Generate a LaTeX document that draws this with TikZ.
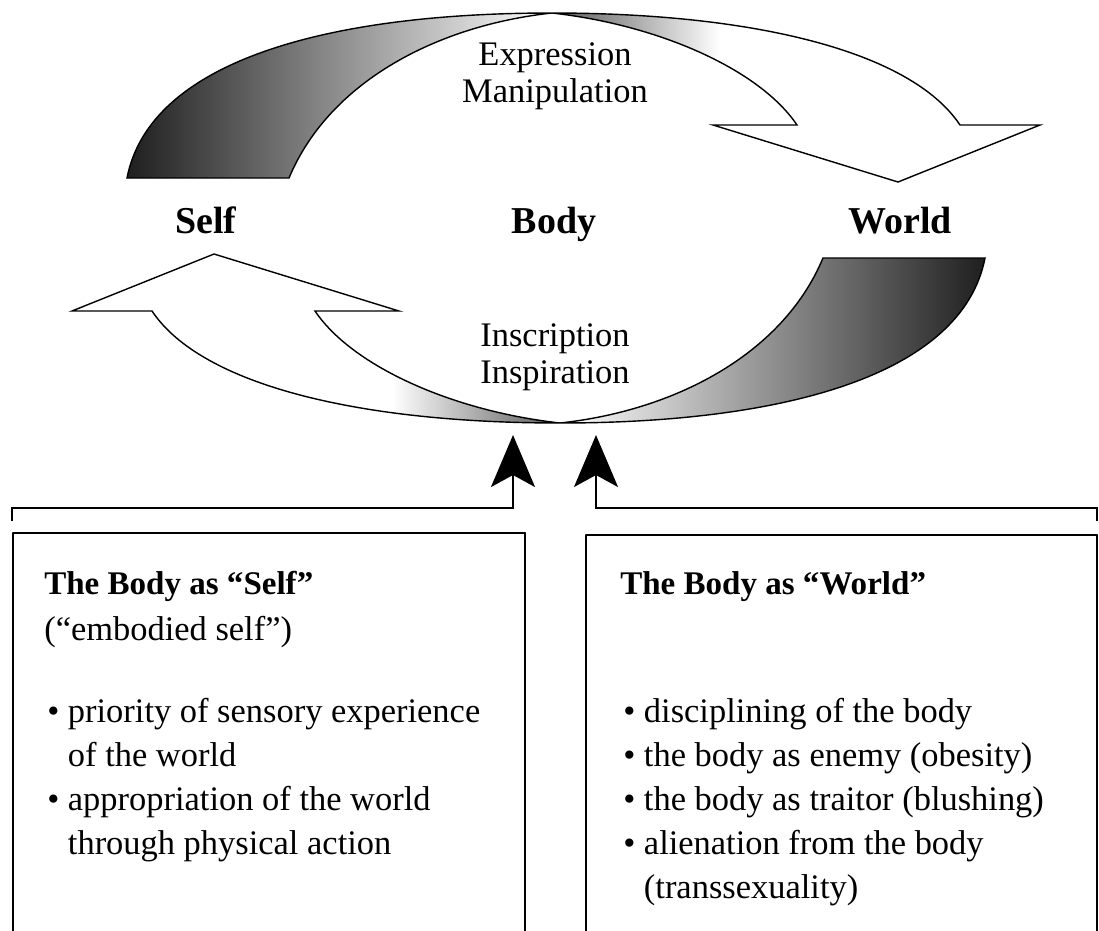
\documentclass[tikz,border=0pt]{standalone}
\usepackage{fontspec}
\setmainfont{Liberation Serif}
\usepackage{tikz}
\usetikzlibrary{arrows.meta,positioning,calc}
\usepackage{tkz-euclide}

\begin{document}
\begin{tikzpicture}[x=0.025cm,y=-0.025cm,
    mainlabel/.style={font=\fontsize{27}{30}\selectfont\bfseries,anchor=base,inner sep=0pt},
    flowtext/.style={font=\fontsize{24.5}{28}\selectfont,anchor=base,inner sep=0pt},
    boxhead/.style={font=\fontsize{23.5}{28}\selectfont\bfseries,anchor=base west,inner sep=0pt},
    boxitem/.style={font=\fontsize{24.5}{28}\selectfont,anchor=base west,inner sep=0pt},
    feed/.style={line width=1.3pt,-{Stealth[length=1.3cm,width=1.1cm,inset=0.3cm]}},
    ribbon/.pic={
        % shaded tail, dark at the far end
        \begin{scope}
            \clip (127,178) .. controls (150,60) and (330,13) .. (552,13)
                .. controls (440,25) and (330,80) .. (289,178) -- cycle;
            \shade[left color=black!88,middle color=black!30,right color=white,shading angle=#1]
                (127,0) rectangle (552,180);
        \end{scope}
        % head half, grey only next to the crossing
        \begin{scope}
            \clip (552,13) .. controls (750,13) and (910,50) .. (960,125) -- (797,125)
                .. controls (760,70) and (660,25) .. (552,13) -- cycle;
            \shade[left color=black!65,right color=white,shading angle=#1] (552,0) rectangle (720,130);
        \end{scope}
        \draw[line width=1pt] (127,178) .. controls (150,60) and (330,13) .. (552,13)
            .. controls (750,13) and (910,50) .. (960,125) -- (1040,125) -- (898,182)
            -- (713,125) -- (797,125) .. controls (760,70) and (660,25) .. (552,13)
            .. controls (440,25) and (330,80) .. (289,178) -- cycle;
    }]
    \useasboundingbox (0,0) rectangle (1099,930);

    % the two twisted arrows
    \pic at (0,0) {ribbon=90};
    \pic[rotate=180] at (1112,436) {ribbon=270};

    \node[flowtext] (expr) at (555,65) {Expression};
    \node[flowtext] (manip) at (555,102) {Manipulation};
    \node[mainlabel] (self) at (206,233) {Self};
    \node[mainlabel] (body) at (554,233) {Body};
    \node[mainlabel] (world) at (900,233) {World};
    \node[flowtext] (inscr) at (555,346) {Inscription};
    \node[flowtext] (inspi) at (555,383) {Inspiration};

    % brackets
    \tkzDefPoint(12,521){fa}
    \tkzDefPoint(12,508){fb}
    \tkzDefPoint(513,508){fc}
    \tkzDefPoint(513,435){fd}
    \tkzDefPoint(1097,521){ga}
    \tkzDefPoint(1097,508){gb}
    \tkzDefPoint(596,508){gc}
    \tkzDefPoint(596,435){gd}
    \draw[feed] (fa) -- (fb) -- (fc) -- (fd);
    \draw[feed] (ga) -- (gb) -- (gc) -- (gd);

    % boxes
    \tkzDefPoint(13,935){sa}
    \tkzDefPoint(13,533){sb}
    \tkzDefPoint(525,533){sc}
    \tkzDefPoint(525,935){sd}
    \tkzDrawSegments[line width=0.9pt](sa,sb sc,sd)
    \tkzDrawSegment[line width=1.4pt](sb,sc)

    \tkzDefPoint(586,935){wa}
    \tkzDefPoint(586,535){wb}
    \tkzDefPoint(1097,535){wc}
    \tkzDefPoint(1097,935){wd}
    \tkzDrawSegments[line width=0.9pt](wa,wb wc,wd)
    \tkzDrawSegment[line width=1.4pt](wb,wc)

    \node[boxhead] (shead) at (44,594) {The Body as “Self”};
    \node[boxitem] (ssub) at (44,640) {(“embodied self”)};
    \node[boxitem] (s1) at (47,722) {• priority of sensory experience};
    \node[boxitem] (s2) at (47,766) {\phantom{•} of the world};
    \node[boxitem] (s3) at (47,810) {• appropriation of the world};
    \node[boxitem] (s4) at (47,854) {\phantom{•} through physical action};

    \node[boxhead] (whead) at (620,594) {The Body as “World”};
    \node[boxitem] (w1) at (623,722) {• disciplining of the body};
    \node[boxitem] (w2) at (623,766) {• the body as enemy (obesity)};
    \node[boxitem] (w3) at (623,810) {• the body as traitor (blushing)};
    \node[boxitem] (w4) at (623,854) {• alienation from the body};
    \node[boxitem] (w5) at (623,898) {\phantom{•} (transsexuality)};
\end{tikzpicture}
\end{document}
